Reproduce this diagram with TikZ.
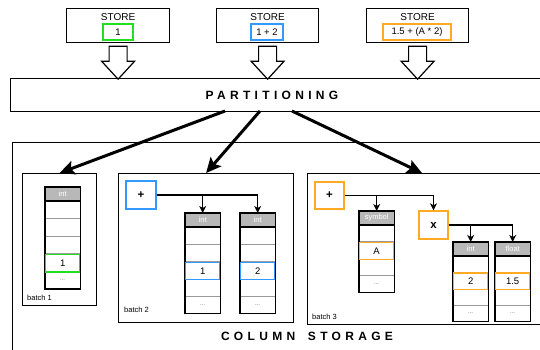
\documentclass[tikz,border=0pt]{standalone}
\usepackage{fontspec}
\setmainfont{Liberation Sans}
\usetikzlibrary{arrows.meta,calc,shadows}
\definecolor{hlgreen}{HTML}{22DD22}
\definecolor{hlblue}{HTML}{3399FF}
\definecolor{hlorange}{HTML}{FFAA22}
\definecolor{hdrgray}{HTML}{B8B8B8}
\definecolor{sepgray}{HTML}{9A9A9A}
\newcommand\titlestyle{\fontsize{12}{14}\selectfont\bfseries\addfontfeature{LetterSpace=36}}
\newcommand\blockarrow[1]{%
  \draw[blockarr] ($(#1)+(-9,3)$) -- ++(18,0) -- ++(0,15) -- ++(7.5,0) -- ++(-16.5,18) -- ++(-16.5,-18) -- ++(7.5,0) -- cycle;}
% name, x, y(top), header, nrows, hl row, colour, value, row height
\newcommand\dbcol[9]{%
  \node[colhead, anchor=north west] (#1-h) at (#2,#3) {#4};
  \foreach \k in {1,...,#5}{\draw[sepline] ($(#1-h.south west)+(0,{\k*#9})$) -- ++(35,0);}
  \node[dotsnode] (#1-d) at ($(#1-h.south west)+(17.5,{(#5-0.5)*#9})$) {...};
  \draw[colborder] (#1-h.north west) rectangle ($(#1-h.south east)+(0,{#5*#9})$);
  \draw[colborder] (#1-h.south west) -- (#1-h.south east);
  \node[hlcell, draw=#7, minimum height=#9, anchor=north west] (#1-v) at ($(#1-h.south west)+(0,{(#6-1)*#9})$) {#8};
}
\begin{document}
\begin{tikzpicture}[x=1pt,y=-1pt,
  box/.style={draw=black, line width=1.2pt, inner sep=0pt, anchor=north west},
  storelbl/.style={font=\fontsize{10}{12}\selectfont, inner sep=0pt},
  valbox/.style={line width=1.2pt, minimum height=16, inner sep=0pt, font=\fontsize{9.5}{11}\selectfont},
  blockarr/.style={draw=black, line width=1.2pt, fill=white, line join=miter},
  bigarrow/.style={line width=3pt, -{Stealth[length=15pt,width=14pt,inset=3pt]}},
  conn/.style={line width=1.2pt, -{Stealth[length=7pt,width=7pt,inset=2pt]}},
  colhead/.style={fill=hdrgray, minimum width=35, minimum height=13.5, inner sep=0pt, text=white, font=\fontsize{7.5}{8}\selectfont},
  hlcell/.style={line width=1.3pt, fill=white, minimum width=34, inner sep=0pt, font=\fontsize{9.5}{11}\selectfont},
  dotsnode/.style={inner sep=0pt, text=black!60, font=\fontsize{6}{6}\selectfont},
  sepline/.style={draw=sepgray, line width=1pt},
  colborder/.style={draw=black, line width=1.3pt},
  opbox/.style={draw=#1, line width=1.3pt, fill=white, inner sep=0pt, font=\fontsize{11.5}{13}\selectfont\bfseries,
    drop shadow={shadow xshift=1pt, shadow yshift=-1pt, fill=black, opacity=1}},
  batchlbl/.style={anchor=base west, inner sep=0pt, font=\fontsize{7.5}{9}\selectfont},
  title/.style={inner sep=0pt, font=\titlestyle}
]
\useasboundingbox (0,0) rectangle (540,349);
\clip (0,0) rectangle (540,349);
\fill[white] (0,0) rectangle (540,349);

% store boxes
\node[box, minimum width=103, minimum height=34] (s1) at (66,8) {};
\node[box, minimum width=102, minimum height=34] (s2) at (216,8) {};
\node[box, minimum width=102, minimum height=34] (s3) at (366,8) {};
\node[storelbl] (s1t) at ($(s1.north)+(0,9)$) {STORE};
\node[storelbl] (s2t) at ($(s2.north)+(0,9)$) {STORE};
\node[storelbl] (s3t) at ($(s3.north)+(0,9)$) {STORE};
\node[valbox, draw=hlgreen, minimum width=30] (s1v) at (118,32) {1};
\node[valbox, draw=hlblue, minimum width=32] (s2v) at (267,32) {1 + 2};
\node[valbox, draw=hlorange, minimum width=68] (s3v) at (417,32) {1.5 + (A * 2)};

\blockarrow{s1.south}
\blockarrow{s2.south}
\blockarrow{s3.south}

% partitioning
\node[box, minimum width=560, minimum height=33] (part) at (10,78) {};
\node[title] (parttxt) at (272,95) {PARTITIONING};

% column storage
\node[box, minimum width=600, minimum height=230] (cs) at (12,142) {};
\node[title] (cstxt) at (307,336) {COLUMN\hspace{5pt} STORAGE};

% batches
\node[box, minimum width=74, minimum height=132] (b1) at (22,173) {};
\node[box, minimum width=175, minimum height=149] (b2) at (118,173) {};
\node[box, minimum width=250, minimum height=151] (b3) at (307,173) {};
\node[batchlbl] (b1l) at (27,300) {batch 1};
\node[batchlbl] (b2l) at (124,312) {batch 2};
\node[batchlbl] (b3l) at (312,319) {batch 3};

\coordinate (pa1) at (225,111);
\coordinate (pa2) at (260,111);
\coordinate (pa3) at (292,111);
\coordinate (b3in) at (422,173);
\draw[bigarrow] (pa1) -- (b1.north);
\draw[bigarrow] (pa2) -- (b2.north);
\draw[bigarrow] (pa3) -- (b3in);

% batch 1
\dbcol{c1}{45}{187}{int}{5}{4}{hlgreen}{1}{17.6}

% batch 2
\node[opbox=hlblue, minimum width=30, minimum height=28] (p2) at (141,195) {+};
\dbcol{c2a}{185}{213}{int}{5}{3}{hlblue}{1}{17.3}
\dbcol{c2b}{240}{213}{int}{5}{3}{hlblue}{2}{17.3}
\draw[conn] (p2.east) -| (c2a-h.north);
\draw[conn] (p2.east) -| (c2b-h.north);

% batch 3
\node[opbox=hlorange, minimum width=29, minimum height=27] (p3) at (329.5,195.5) {+};
\node[opbox=hlorange, minimum width=29, minimum height=28] (x3) at (433.5,225) {x};
\dbcol{c3s}{359}{211}{symbol}{4}{2}{hlorange}{A}{16.9}
\dbcol{c3i}{453}{242}{int}{4}{2}{hlorange}{2}{16.4}
\dbcol{c3f}{495}{242}{float}{4}{2}{hlorange}{1.5}{16.4}
\draw[conn] (p3.east) -| (c3s-h.north);
\draw[conn] (p3.east) -| (x3.north);
\draw[conn] (x3.east) -| (c3i-h.north);
\draw[conn] (x3.east) -| (c3f-h.north);
\end{tikzpicture}
\end{document}
